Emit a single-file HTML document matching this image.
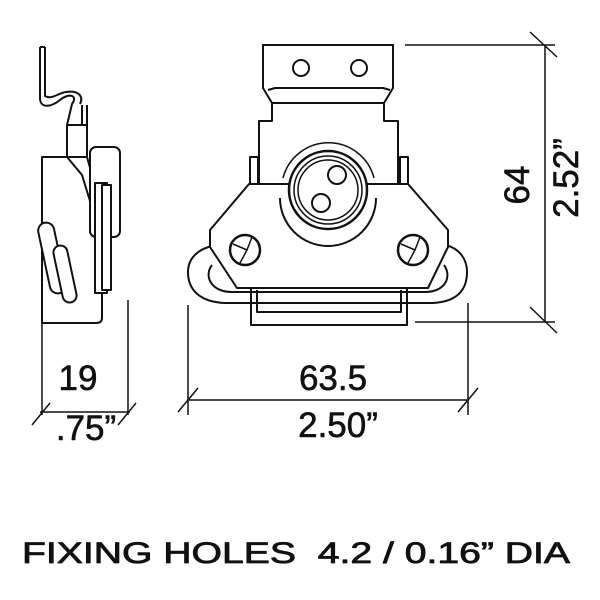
<!DOCTYPE html>
<html><head><style>html,body{margin:0;padding:0;background:#fff}svg{display:block}</style></head>
<body>
<svg width="600" height="600" viewBox="0 0 600 600" xmlns="http://www.w3.org/2000/svg" fill="none" stroke="#111" stroke-width="2" stroke-linejoin="round">
<!-- MAIN VIEW -->
<path d="M263 45 H393 V88 L384 103 H272 L263 88 Z"/>
<path d="M268 90 L275 88 H383 L390 90"/>
<circle cx="301" cy="68" r="8"/><circle cx="359" cy="68" r="8"/>
<path d="M272 103 V121 H259 V183 M384 103 V121 H398 V183"/>
<rect x="250" y="157" width="8" height="27"/><rect x="400" y="157" width="8" height="27"/>
<path d="M225 244 C196 246 188 260 188 272 C188 290 200 302 225 303 H432 C457 302 467 290 467 272 C467 258 458 246 440 244"/>
<path d="M212 265 C204 275 210 292 232 292 H425 C446 292 452 276 444 265"/>
<path d="M249 184 H408 L448 230 V247 L428 288 H237 L210 247 V230 Z" fill="#fff"/>
<rect x="251" y="288" width="156" height="37"/>
<path d="M257 290 V312 H401 V290"/>
<path d="M283 178 A47 47 0 0 1 374 178" stroke-width="1.5"/>
<path d="M280 198 A48 48 0 0 0 376 198" stroke-width="2"/>
<circle cx="328" cy="190" r="39" fill="#fff" stroke-width="2.5"/>
<circle cx="328" cy="190" r="34" stroke-width="1.5"/>
<circle cx="328" cy="190" r="30" stroke-width="1.5"/>
<circle cx="337" cy="175" r="9"/><circle cx="321" cy="203" r="9"/>
<circle cx="245" cy="250" r="15" stroke-width="2.5"/>
<path d="M233 244 L247 250 L240 263 M247 250 L252 237" stroke-width="1.5"/>
<circle cx="413" cy="250" r="15" stroke-width="2.5"/>
<path d="M401 244 L415 250 L408 263 M415 250 L420 237" stroke-width="1.5"/>

<g stroke-width="1.5">
<path d="M188 305 V415 M468 303 V415 M188 400 H468"/>
<path d="M178 412 L198 388 M458 412 L478 388"/>
<path d="M405 45 H555 M415 322 H555 M545 45 V322"/>
<path d="M530 32 L557 57 M530 307 L557 333"/>
</g>
<g fill="#111" stroke="#111" stroke-width="0.6" font-family="Liberation Sans, sans-serif" font-size="35">
<text x="333" y="390" text-anchor="middle">63.5</text>
<text x="338" y="437" text-anchor="middle">2.50”</text>
<text transform="translate(529,185) rotate(-90)" text-anchor="middle">64</text>
<text transform="translate(578,178) rotate(-90)" text-anchor="middle">2.52”</text>
<text x="78" y="390" text-anchor="middle">19</text>
<text x="86" y="440" text-anchor="middle">.75”</text>
<text x="22" y="563" font-size="30" stroke-width="0.8" textLength="548" lengthAdjust="spacingAndGlyphs" xml:space="preserve">FIXING HOLES  4.2 / 0.16” DIA</text>
</g>

<!-- SIDE VIEW -->
<path d="M40 47 V98 C40 108 50 108 60 100 C70 92 78 96 72 104 L67 125" />
<path d="M45 47 V96 C52 100 58 93 66 92 C78 90 84 96 80 104" />
<path d="M40 47 H45" />
<rect x="67" y="125" width="20" height="32" fill="#fff"/>
<path d="M82 105 V125 M87 105 V125"/>
<path d="M42 157 H67 L82 175 L102 240 V318 Q102 323 96 323 H42 Z" fill="#fff"/>
<path d="M67 157 V125 M87 157 L92 175"/>
<rect x="90" y="147" width="30" height="90" rx="6" fill="#fff"/>
<rect x="95" y="183" width="12" height="110" fill="#fff"/>
<rect x="102" y="185" width="9" height="105" fill="#fff"/>
<rect x="44" y="222" width="16" height="72" rx="8" transform="rotate(-12 52 258)" fill="#fff"/>
<rect x="58" y="245" width="14" height="58" rx="7" transform="rotate(-12 65 274)" fill="#fff"/>
<g stroke-width="1.5">
<path d="M42 323 V415 M128 300 V415 M40 412 H130"/>
<path d="M32 425 L50 403 M118 425 L136 403"/>
</g>
</svg>
</body></html>
